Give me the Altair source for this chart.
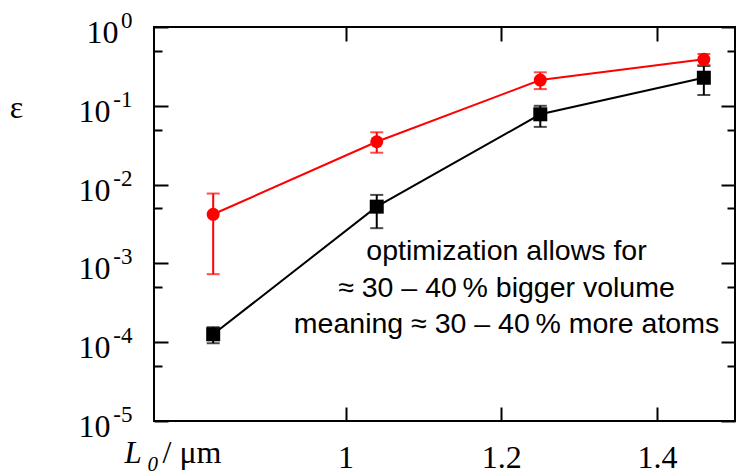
import altair as alt
import pandas as pd

# ---- data ----
x_vals = [0.83, 1.04, 1.25, 1.46]

red_y = [4.2e-3, 0.035, 0.212, 0.389]
red_lo = [7.3e-4, 0.0254, 0.163, 0.33]
red_hi = [7.7e-3, 0.0461, 0.266, 0.454]

black_y = [1.26e-4, 5.25e-3, 0.078, 0.227]
black_lo = [9.7e-5, 2.8e-3, 0.054, 0.137]
black_hi = [1.55e-4, 7.4e-3, 0.10, 0.32]

x_ticks = [1.0, 1.2, 1.4]
y_major = [1e-5, 1e-4, 1e-3, 1e-2, 1e-1, 1.0]
y_minor = [5e-5, 5e-4, 5e-3, 5e-2, 5e-1]

annotation_lines = [
    "optimization allows for",
    "\u2248 30 \u2013 40\u2009% bigger volume",
    "meaning \u2248 30 \u2013 40\u2009% more atoms",
]

red = pd.DataFrame({"x": x_vals, "y": red_y, "lo": red_lo, "hi": red_hi})
black = pd.DataFrame({"x": x_vals, "y": black_y, "lo": black_lo, "hi": black_hi})
note = pd.DataFrame({"x": [1.2066], "y": [1.10e-3], "t": ["\n".join(annotation_lines)]})

SERIF = "Liberation Serif"
SANS = "Liberation Sans"

xs = alt.Scale(domain=[0.754, 1.5], nice=False, zero=False)
ys = alt.Scale(type="log", domain=[1e-5, 1.0], nice=False)

common = dict(grid=False, domain=False, labelFlush=False, labelOverlap=False, labelBound=False,
              tickColor="black", tickWidth=2, labelColor="black", titleColor="black")

ax_bottom = alt.Axis(values=x_ticks, orient="bottom", offset=-14, tickSize=14, format="~g",
                     labelFont=SERIF, labelFontSize=32, labelBaseline="alphabetic",
                     labelAlign="center", labelPadding=46, title=None, **common)
ax_top = alt.Axis(values=x_ticks, orient="top", offset=-14, tickSize=14, labels=False,
                  title=None, **common)
ax_left = alt.Axis(values=y_major, orient="left", offset=-14, tickSize=14,
                   labelExpr="'10'", labelFont=SERIF, labelFontSize=32,
                   labelAlign="right", labelBaseline="alphabetic", labelOffset=15.5,
                   labelPadding={"condition": {"test": "datum.value >= 0.5", "value": 36}, "value": 44},
                   title=None, **common)
ax_right = alt.Axis(values=y_major, orient="right", offset=-14, tickSize=14, labels=False,
                    title=None, **common)
ax_left_minor = alt.Axis(values=y_minor, orient="left", offset=-8, tickSize=8, labels=False,
                         title=None, **common)
ax_right_minor = alt.Axis(values=y_minor, orient="right", offset=-8, tickSize=8, labels=False,
                          title=None, **common)
ax_exp = alt.Axis(values=y_major, orient="left", offset=0, ticks=False, tickSize=0,
                  labelExpr="'' + round(log(datum.value) / LN10)",
                  labelFont=SERIF, labelFontSize=23, labelAlign="right",
                  labelBaseline="alphabetic", labelOffset=0.5, labelPadding=22,
                  title="\u03b5", titleFont=SERIF, titleFontSize=32, titleFontWeight="normal",
                  titleAngle=0, titleAlign="center", titleBaseline="alphabetic",
                  titleX=-138, titleY=90, **common)
ax_title_L = alt.Axis(values=x_ticks, orient="bottom", offset=0, ticks=False, tickSize=0, labels=False,
                      title="L", titleFont=SERIF, titleFontSize=31, titleFontStyle="italic",
                      titleFontWeight="normal", titleAlign="left", titleBaseline="alphabetic",
                      titleX=-30, titleY=41, **common)
ax_title_0 = alt.Axis(values=x_ticks, orient="bottom", offset=0, ticks=False, tickSize=0, labels=False,
                      title="0", titleFont=SERIF, titleFontSize=21, titleFontStyle="italic",
                      titleFontWeight="normal", titleAlign="left", titleBaseline="alphabetic",
                      titleX=-7, titleY=49, **common)
ax_title_unit = alt.Axis(values=x_ticks, orient="bottom", offset=0, ticks=False, tickSize=0, labels=False,
                         title="/ \u03bcm", titleFont=SERIF, titleFontSize=32,
                         titleFontWeight="normal", titleAlign="left", titleBaseline="alphabetic",
                         titleX=8, titleY=41, **common)


def X(field, axis):
    return alt.X(field, type="quantitative", scale=xs, axis=axis)


def Y(field, axis):
    return alt.Y(field, type="quantitative", scale=ys, axis=axis)


b = alt.Chart(black)
r = alt.Chart(red)

black_line = b.mark_line(color="black", strokeWidth=2).encode(x=X("x", ax_bottom), y=Y("y", ax_left))
black_err = b.mark_rule(color="black", strokeWidth=2).encode(x=X("x", ax_top), y=Y("lo", ax_right), y2="hi")
black_cap_lo = b.mark_tick(color="black", orient="horizontal", size=13, thickness=2).encode(
    x=X("x", ax_title_L), y=Y("lo", ax_left_minor))
black_cap_hi = b.mark_tick(color="black", orient="horizontal", size=13, thickness=2).encode(
    x=X("x", ax_title_0), y=Y("hi", ax_right_minor))
black_pts = b.mark_point(shape="square", filled=True, size=196, color="black", opacity=1).encode(
    x=X("x", ax_title_unit), y=Y("y", ax_exp))

red_line = r.mark_line(color="#ff0000", strokeWidth=2).encode(x=X("x", None), y=Y("y", None))
red_err = r.mark_rule(color="#ff0000", strokeWidth=2).encode(x=X("x", None), y=Y("lo", None), y2="hi")
red_cap_lo = r.mark_tick(color="#ff0000", orient="horizontal", size=13, thickness=2).encode(
    x=X("x", None), y=Y("lo", None))
red_cap_hi = r.mark_tick(color="#ff0000", orient="horizontal", size=13, thickness=2).encode(
    x=X("x", None), y=Y("hi", None))
red_pts = r.mark_circle(size=169, color="#ff0000", opacity=1).encode(x=X("x", None), y=Y("y", None))

text = alt.Chart(note).mark_text(font=SANS, fontSize=28.5, align="center", baseline="alphabetic",
                                 lineBreak="\n", lineHeight=36.5, color="black").encode(
    x=X("x", None), y=Y("y", None), text="t:N")

chart = alt.layer(
    black_line, black_err, black_cap_lo, black_cap_hi, black_pts,
    red_line, red_err, red_cap_lo, red_cap_hi, red_pts, text,
).resolve_axis(x="independent", y="independent").properties(
    width=581, height=394,
    autosize=alt.AutoSizeParams(type="none"),
    padding={"left": 154, "top": 27, "right": 2, "bottom": 54},
    background="white",
).configure_view(stroke="black", strokeWidth=2)

chart.save("out.html", embed_options={"renderer": "svg", "actions": False})
